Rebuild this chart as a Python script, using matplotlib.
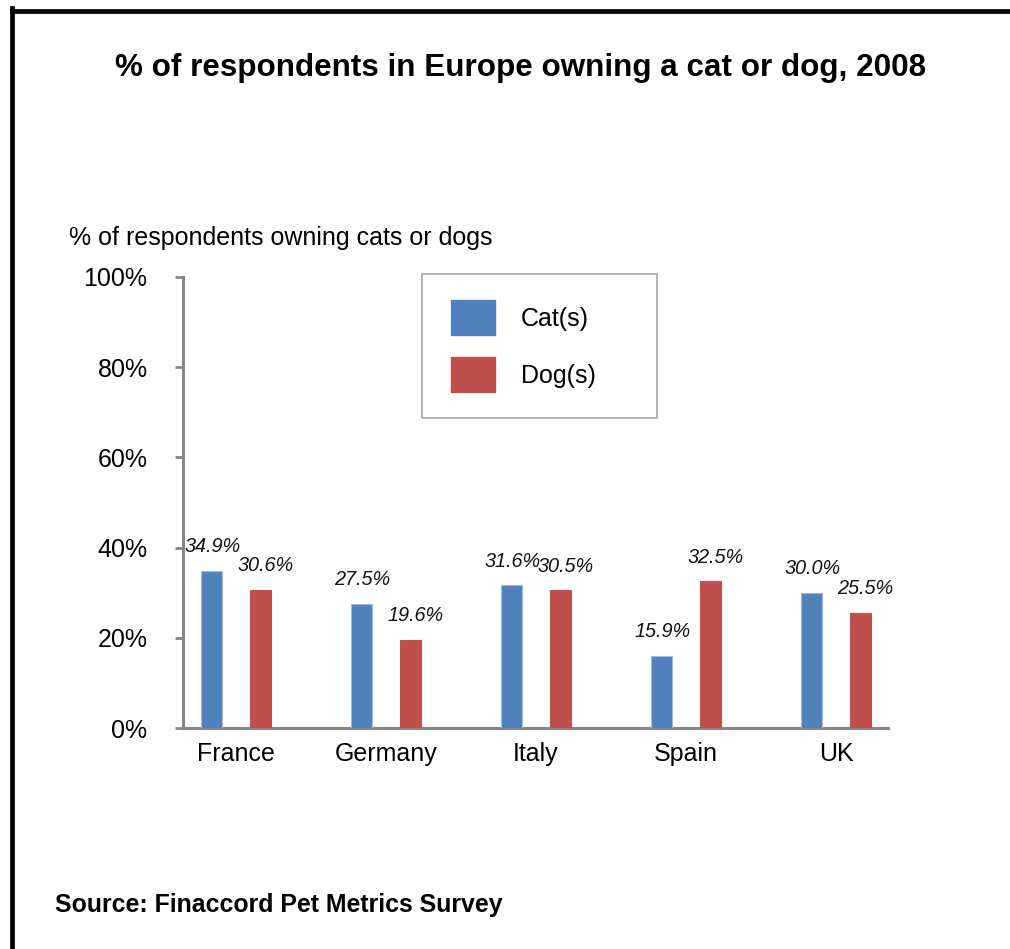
import matplotlib
matplotlib.use("Agg")
import matplotlib.pyplot as plt
from matplotlib.lines import Line2D
from matplotlib.patches import Patch, Rectangle
from matplotlib.ticker import FuncFormatter
import numpy as np

plt.rcParams['font.family'] = ['Liberation Sans', 'DejaVu Sans']

countries = ["France", "Germany", "Italy", "Spain", "UK"]
cats = [34.9, 27.5, 31.6, 15.9, 30.0]
dogs = [30.6, 19.6, 30.5, 32.5, 25.5]
series_names = ["Cat(s)", "Dog(s)"]
yticks = [0, 20, 40, 60, 80, 100]

title = "% of respondents in Europe owning a cat or dog, 2008"
ylabel = "% of respondents owning cats or dogs"
source = "Source: Finaccord Pet Metrics Survey"

BLUE = "#4F81BD"
RED = "#C0504D"
AXC = "#868686"

W, H = 1010, 949
fig = plt.figure(figsize=(W / 100, H / 100), dpi=100)

ax = fig.add_axes([183 / W, 1 - 728 / H, (888 - 183) / W, (728 - 277) / H])

x = np.arange(len(countries))
bw = 0.135
off = 0.163
b1 = ax.bar(x - off, cats, bw, color=BLUE, edgecolor="#9DB9DC", linewidth=0.8, zorder=3)
b2 = ax.bar(x + off, dogs, bw, color=RED, edgecolor=RED, linewidth=0.8, zorder=3)

for bars, vals, dx in ((b1, cats, 0.5), (b2, dogs, 3.5)):
    for b, v in zip(bars, vals):
        ax.annotate(f"{v:.1f}%", (b.get_x() + b.get_width() / 2, v),
                    xytext=(dx, 17.5), textcoords="offset points",
                    ha="center", va="center", fontsize=14.3, style="italic",
                    color="#111111")

ax.set_xlim(-0.353, 4.347)
ax.set_ylim(0, 100)
ax.set_yticks(yticks)
ax.yaxis.set_major_formatter(FuncFormatter(lambda v, p: f"{v:.0f}%"))
ax.set_xticks(x)
ax.set_xticklabels(countries)
ax.tick_params(axis="y", direction="out", length=6, width=2, color=AXC,
               labelsize=18, pad=19.5)
ax.tick_params(axis="x", length=0, labelsize=18, pad=10)
for s in ("top", "right"):
    ax.spines[s].set_visible(False)
for s in ("left", "bottom"):
    ax.spines[s].set_color(AXC)
    ax.spines[s].set_linewidth(2.2)

# legend entries (no frame) + separate frame box
leg = fig.legend([Patch(color=BLUE), Patch(color=RED)], series_names,
                 loc="upper left", bbox_to_anchor=(451 / W, 1 - 300 / H),
                 fontsize=18, frameon=False,
                 handlelength=1.76, handleheight=1.777, handletextpad=1.04,
                 labelspacing=0.88, borderpad=0.0, borderaxespad=0.0)
fig.add_artist(Rectangle((422 / W, 1 - 418 / H), (657 - 422) / W, (418 - 274) / H,
                         transform=fig.transFigure, fill=False,
                         edgecolor="#A6A6A6", linewidth=1.2))

fig.text(521 / W, 1 - 68 / H, title, ha="center", va="center",
         fontsize=22.6, fontweight="bold")
fig.text(69 / W, 1 - 238 / H, ylabel, ha="left", va="center", fontsize=18)
fig.text(55 / W, 1 - 905 / H, source, ha="left", va="center",
         fontsize=17.9, fontweight="bold")

# frame border lines (left and top)
fig.add_artist(Line2D([11.5 / W, 11.5 / W], [0, 1 - 8 / H], color="black",
                      linewidth=3.4, solid_capstyle="projecting"))
fig.add_artist(Line2D([11.5 / W, 1], [1 - 10.5 / H, 1 - 10.5 / H], color="black",
                      linewidth=3.4, solid_capstyle="projecting"))

fig.savefig("out.png", dpi=100)
